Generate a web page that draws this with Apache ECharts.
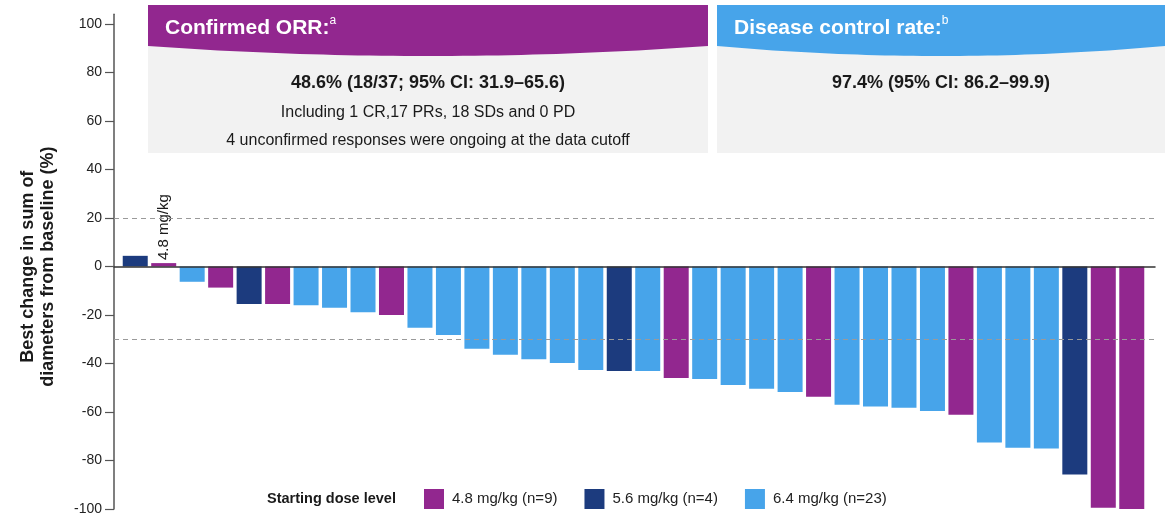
<!DOCTYPE html>
<html>
<head>
<meta charset="utf-8">
<title>Best change in sum of diameters from baseline</title>
<script src="https://cdn.jsdelivr.net/npm/echarts@6/dist/echarts.min.js"></script>
<style>
  html, body { margin: 0; padding: 0; background: #ffffff; }
  #chart { width: 1171px; height: 517px; }
</style>
</head>
<body>
<div id="chart"></div>
<script>
// Patients ordered by best percentage change in target lesions
const patients = ['1','2','3','4','5','6','7','8','9','10','11','12',
                  '13','14','15','16','17','18','19','20','21','22','23','24',
                  '25','26','27','28','29','30','31','32','33','34','35','36'];
const bestChange = [4.4, 1.4, -6.3, -8.7, -15.5, -15.5, -16.0, -17.0, -18.9, -20.0, -25.3, -28.2,
                    -33.9, -36.4, -38.2, -39.8, -42.7, -43.1, -43.1, -46.0, -46.4, -48.9, -50.4, -51.8,
                    -53.7, -57.0, -57.7, -58.2, -59.6, -61.1, -72.6, -74.7, -75.1, -85.8, -99.5, -100];
const doseLevel = ['5.6','4.8','6.4','4.8','5.6','4.8','6.4','6.4','6.4','4.8','6.4','6.4',
                   '6.4','6.4','6.4','6.4','6.4','5.6','6.4','4.8','6.4','6.4','6.4','6.4',
                   '4.8','6.4','6.4','6.4','6.4','4.8','6.4','6.4','6.4','5.6','4.8','4.8'];
const doseKeys = ['4.8', '5.6', '6.4'];
const doseLabels = ['4.8 mg/kg (n=9)', '5.6 mg/kg (n=4)', '6.4 mg/kg (n=23)'];
const legendTitle = 'Starting dose level';
const barNotes = [{ index: 1, text: '4.8 mg/kg' }];
const referenceLines = [20, -30];
const yTickValues = [-100, -80, -60, -40, -20, 0, 20, 40, 60, 80, 100];
const yAxisTitle = 'Best change in sum of\ndiameters from baseline (%)';
const orrTitle = 'Confirmed ORR:';
const orrNote = 'a';
const orrLines = ['48.6% (18/37; 95% CI: 31.9\u201365.6)',
                  'Including 1 CR,17 PRs, 18 SDs and 0 PD',
                  '4 unconfirmed responses were ongoing at the data cutoff'];
const dcrTitle = 'Disease control rate:';
const dcrNote = 'b';
const dcrLines = ['97.4% (95% CI: 86.2\u201399.9)'];

const FONT = '"Liberation Sans", Arial, Helvetica, sans-serif';
const palette = { '4.8': '#92278F', '5.6': '#1C3B7E', '6.4': '#47A4EA' };
const TEXT = '#1a1a1a';

// Value range shared by both grids (axis line runs a little above 100)
const Y_MIN = -100, Y_MAX = 104;

// One bar series per starting dose; bars overlap so each slot shows one colour
const barSeries = doseKeys.map((key, k) => ({
  type: 'bar',
  name: doseLabels[k],
  xAxisIndex: 0,
  yAxisIndex: 0,
  barWidth: 25,
  barGap: '-100%',
  itemStyle: { color: palette[key] },
  z: 2,
  data: bestChange.map((v, i) => {
    if (doseLevel[i] !== key) return null;
    const note = barNotes.find(n => n.index === i);
    if (!note) return v;
    return {
      value: v,
      label: {
        show: true, formatter: note.text, position: 'top', rotate: 90,
        align: 'left', verticalAlign: 'middle', distance: 3,
        fontSize: 15, color: TEXT, fontFamily: FONT
      }
    };
  })
}));

// Curved header band for the summary boxes
function headerPoints(x0, x1, top, edge, dip) {
  const pts = [[x0, top], [x1, top]];
  const cx = (x0 + x1) / 2;
  const n = 48;
  for (let s = 0; s <= n; s++) {
    const t = s / n;
    const x = (1 - t) * (1 - t) * x1 + 2 * (1 - t) * t * cx + t * t * x0;
    const y = (1 - t) * (1 - t) * edge + 2 * (1 - t) * t * dip + t * t * edge;
    pts.push([x, y]);
  }
  return pts;
}

function summaryBox(x0, x1, color, title, note, lines, lineY, lineStyles) {
  const cx = (x0 + x1) / 2;
  const els = [
    { type: 'rect', shape: { x: x0, y: 5, width: x1 - x0, height: 148 }, style: { fill: '#f2f2f2' }, z: 0 },
    { type: 'polygon', shape: { points: headerPoints(x0, x1, 5, 46, 66) }, style: { fill: color }, z: 1 },
    {
      type: 'text', x: x0 + 17, y: 28, z: 2,
      style: {
        text: '{t|' + title + '}{s|' + note + '}',
        verticalAlign: 'middle', align: 'left',
        rich: {
          t: { fontSize: 21, fontWeight: 'bold', fontFamily: FONT, fill: '#ffffff', lineHeight: 26 },
          s: { fontSize: 12, fontFamily: FONT, fill: '#ffffff', lineHeight: 16, verticalAlign: 'top' }
        }
      }
    }
  ];
  lines.forEach((txt, i) => {
    els.push({
      type: 'text', x: cx, y: lineY[i], z: 2,
      style: Object.assign({
        text: txt, align: 'center', verticalAlign: 'middle',
        fill: TEXT, fontFamily: FONT
      }, lineStyles[i])
    });
  });
  return els;
}

const chart = echarts.init(document.getElementById('chart'), null, { renderer: 'canvas' });

chart.setOption({
  animation: false,
  backgroundColor: '#ffffff',
  grid: [
    { left: 121, right: 25, top: 14.3, bottom: 8 },   // bars
    { left: 114, right: 16, top: 14.3, bottom: 8 }    // axis, zero line and reference lines
  ],
  xAxis: [
    { type: 'category', gridIndex: 0, data: patients, show: false },
    {
      type: 'value', gridIndex: 1, min: 0, max: 1, z: 4,
      axisLine: { show: true, onZero: true, lineStyle: { color: '#333333', width: 1.5 } },
      axisTick: { show: false }, axisLabel: { show: false }, splitLine: { show: false }
    }
  ],
  yAxis: [
    { type: 'value', gridIndex: 0, min: Y_MIN, max: Y_MAX, show: false },
    {
      type: 'value', gridIndex: 1, min: Y_MIN, max: Y_MAX, z: 4,
      axisLine: { show: true, onZero: false, lineStyle: { color: '#555555', width: 1.5 } },
      axisTick: { show: true, length: 9, customValues: yTickValues, lineStyle: { color: '#555555', width: 1.2 } },
      axisLabel: { customValues: yTickValues, fontSize: 14, color: '#222222', fontFamily: FONT, margin: 12 },
      splitLine: { show: false },
      name: yAxisTitle,
      nameLocation: 'middle',
      nameRotate: 90,
      nameGap: 56,
      nameTextStyle: {
        fontSize: 18, fontWeight: 'bold', color: TEXT, fontFamily: FONT,
        lineHeight: 20, padding: [0, 10, 0, 0]
      }
    }
  ],
  legend: {
    data: doseLabels,
    left: 424,
    top: 489,
    padding: 0,
    icon: 'rect',
    itemWidth: 20,
    itemHeight: 20,
    itemGap: 27,
    selectedMode: false,
    textStyle: { fontSize: 15, color: '#222222', fontFamily: FONT, padding: [0, 0, 0, 3] }
  },
  series: barSeries.concat([{
    type: 'line',
    name: 'reference',
    xAxisIndex: 1,
    yAxisIndex: 1,
    data: [],
    silent: true,
    z: 5,
    markLine: {
      silent: true,
      symbol: ['none', 'none'],
      label: { show: false },
      lineStyle: { type: [5, 4], color: '#9a9a9a', width: 1.2 },
      data: referenceLines.map(v => ({ yAxis: v })),
      z: 5
    }
  }]),
  graphic: [].concat(
    summaryBox(148, 708, palette['4.8'], orrTitle, orrNote, orrLines, [83, 113, 141], [
      { fontSize: 18, fontWeight: 'bold' },
      { fontSize: 16 },
      { fontSize: 16 }
    ]),
    summaryBox(717, 1165, palette['6.4'], dcrTitle, dcrNote, dcrLines, [83], [
      { fontSize: 18, fontWeight: 'bold' }
    ]),
    [{
      type: 'text', x: 267, y: 499,
      style: {
        text: legendTitle, align: 'left', verticalAlign: 'middle',
        fontSize: 14.5, fontWeight: 'bold', fill: TEXT, fontFamily: FONT
      }
    }]
  )
});
</script>
</body>
</html>
